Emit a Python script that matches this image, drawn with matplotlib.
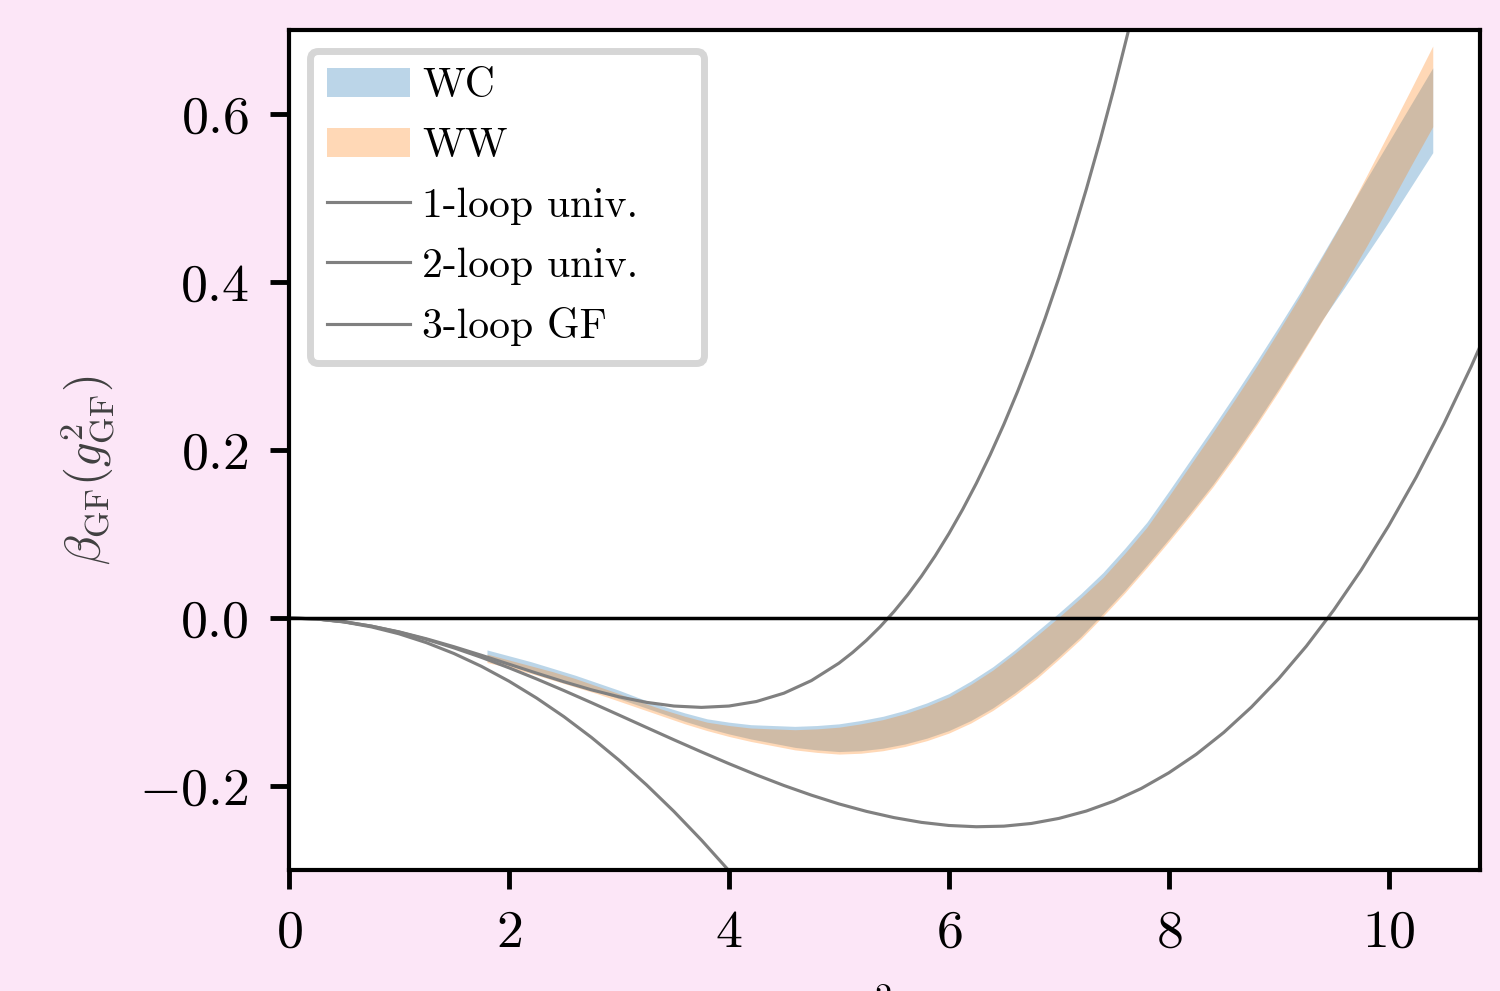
import matplotlib
matplotlib.use("Agg")
import matplotlib.pyplot as plt

plt.rcParams['font.family'] = ['cmr10', 'DejaVu Serif']
plt.rcParams['mathtext.fontset'] = 'cm'
plt.rcParams['axes.formatter.use_mathtext'] = True

# bandas de datos
x_band = [1.8, 2.0, 2.2, 2.4, 2.6, 2.8, 3.0, 3.2, 3.4, 3.6, 3.8, 4.0, 4.2,
          4.4, 4.6, 4.8, 5.0, 5.2, 5.4, 5.6, 5.8, 6.0, 6.2, 6.4, 6.6, 6.8,
          7.0, 7.2, 7.4, 7.6, 7.8, 8.0, 8.2, 8.4, 8.6, 8.8, 9.0, 9.2, 9.4,
          9.6, 9.8, 10.0, 10.2, 10.4]
wc_hi = [-0.038, -0.045, -0.052, -0.060, -0.068, -0.077, -0.086, -0.096,
         -0.105, -0.113, -0.120, -0.124, -0.127, -0.128, -0.129, -0.128,
         -0.126, -0.122, -0.117, -0.110, -0.101, -0.090, -0.075, -0.058,
         -0.038, -0.016, 0.006, 0.029, 0.054, 0.083, 0.114, 0.151, 0.189,
         0.227, 0.266, 0.306, 0.347, 0.389, 0.433, 0.478, 0.523, 0.567,
         0.611, 0.655]
wc_lo = [-0.050, -0.056, -0.063, -0.071, -0.079, -0.087, -0.096, -0.105,
         -0.114, -0.123, -0.131, -0.138, -0.144, -0.149, -0.154, -0.157,
         -0.159, -0.158, -0.155, -0.150, -0.143, -0.134, -0.122, -0.107,
         -0.089, -0.069, -0.046, -0.022, 0.005, 0.033, 0.063, 0.094, 0.126,
         0.159, 0.195, 0.233, 0.273, 0.314, 0.356, 0.394, 0.433, 0.472,
         0.513, 0.554]
ww_hi = [-0.043, -0.050, -0.057, -0.064, -0.072, -0.081, -0.090, -0.100,
         -0.109, -0.117, -0.124, -0.128, -0.131, -0.132, -0.133, -0.132,
         -0.130, -0.126, -0.121, -0.114, -0.105, -0.094, -0.079, -0.062,
         -0.042, -0.021, 0.001, 0.024, 0.048, 0.077, 0.108, 0.145, 0.183,
         0.221, 0.260, 0.300, 0.342, 0.385, 0.431, 0.477, 0.527, 0.578,
         0.629, 0.681]
ww_lo = [-0.053, -0.059, -0.066, -0.074, -0.082, -0.090, -0.099, -0.108,
         -0.117, -0.126, -0.134, -0.141, -0.147, -0.152, -0.157, -0.160,
         -0.162, -0.161, -0.158, -0.153, -0.146, -0.137, -0.125, -0.110,
         -0.092, -0.072, -0.049, -0.025, 0.002, 0.030, 0.060, 0.091, 0.123,
         0.156, 0.192, 0.230, 0.270, 0.312, 0.355, 0.398, 0.443, 0.490,
         0.538, 0.585]

# curvas perturbativas
x_1l = [0, 0.25, 0.5, 0.75, 1.0, 1.25, 1.5, 1.75, 2.0, 2.25, 2.5, 2.75,
        3.0, 3.25, 3.5, 3.75, 4.0]
y_1l = [0, -0.0012, -0.0047, -0.0106, -0.0188, -0.0294, -0.0423, -0.0576,
        -0.0752, -0.0952, -0.1175, -0.1422, -0.1692, -0.1986, -0.2303,
        -0.2644, -0.3008]

x_2l = [0, 0.25, 0.5, 0.75, 1.0, 1.25, 1.5, 1.75, 2.0, 2.25, 2.5, 2.75,
        3.0, 3.25, 3.5, 3.75, 4.0, 4.25, 4.5, 4.75, 5.0, 5.25, 5.5, 5.75,
        6.0, 6.25, 6.5, 6.75, 7.0, 7.25, 7.5, 7.75, 8.0, 8.25, 8.5, 8.75,
        9.0, 9.25, 9.5, 9.75, 10.0, 10.25, 10.5, 10.75, 11.0]
y_2l = [0, -0.0011, -0.0045, -0.0097, -0.0168, -0.0255, -0.0356, -0.0469,
        -0.0593, -0.0725, -0.0864, -0.1008, -0.1155, -0.1303, -0.1450,
        -0.1594, -0.1734, -0.1868, -0.1994, -0.2109, -0.2213, -0.2302,
        -0.2376, -0.2433, -0.2470, -0.2485, -0.2478, -0.2446, -0.2386,
        -0.2298, -0.2180, -0.2029, -0.1843, -0.1622, -0.1362, -0.1062,
        -0.0721, -0.0336, 0.0095, 0.0573, 0.1100, 0.1678, 0.2310, 0.2996,
        0.3739]

x_3l = [0, 0.25, 0.5, 0.75, 1.0, 1.25, 1.5, 1.75, 2.0, 2.25, 2.5, 2.75,
        3.0, 3.25, 3.5, 3.75, 4.0, 4.25, 4.5, 4.75, 5.0, 5.125, 5.25,
        5.375, 5.5, 5.625, 5.75, 5.875, 6.0, 6.125, 6.25, 6.375, 6.5,
        6.625, 6.75, 6.875, 7.0, 7.125, 7.25, 7.375, 7.5, 7.625, 7.75]
y_3l = [0, -0.0011, -0.0044, -0.0097, -0.0165, -0.0248, -0.0342, -0.0444,
        -0.0550, -0.0656, -0.0759, -0.0855, -0.0938, -0.1004, -0.1048,
        -0.1064, -0.1048, -0.0994, -0.0895, -0.0745, -0.0538, -0.0410,
        -0.0266, -0.0104, 0.0076, 0.0276, 0.0497, 0.0739, 0.1004, 0.1292,
        0.1604, 0.1942, 0.2306, 0.2698, 0.3118, 0.3568, 0.4048, 0.4561,
        0.5106, 0.5686, 0.6300, 0.6951, 0.7640]

fig = plt.figure(figsize=(6.0, 3.964), dpi=250, facecolor='#fce6f7')
ax = fig.add_axes([0.1927, 0.1221, 0.794, 0.8476])

ax.fill_between(x_band, wc_lo, wc_hi, color='tab:blue', alpha=0.3, lw=0, label='WC')
ax.fill_between(x_band, ww_lo, ww_hi, color='tab:orange', alpha=0.3, lw=0, label='WW')
ax.plot(x_1l, y_1l, color='gray', lw=0.9, label='1-loop univ.')
ax.plot(x_2l, y_2l, color='gray', lw=0.9, label='2-loop univ.')
ax.plot(x_3l, y_3l, color='gray', lw=0.9, label='3-loop GF')
ax.axhline(0, color='k', lw=1.0)

ax.set_xlim(0, 10.83)
ax.set_ylim(-0.3, 0.7)
ax.set_xticks([0, 2, 4, 6, 8, 10])
ax.set_yticks([-0.2, 0.0, 0.2, 0.4, 0.6])
for s in ax.spines.values():
    s.set_linewidth(1.2)
ax.tick_params(labelsize=15.5, width=1.4, length=5.5, pad=6)

# la etiqueta x queda casi fuera de la figura, como en el original
ax.set_xlabel(r'$g^2_{\rm GF}$', fontsize=14)
ax.xaxis.set_label_coords(0.5, -0.132)
ax.set_ylabel(r'$\beta_{\rm GF}(g^2_{\rm GF})$', fontsize=14, color='0.25')
ax.yaxis.set_label_coords(-0.145, 0.476)

leg = ax.legend(loc='upper left', bbox_to_anchor=(0, 0, 0.366, 1), mode='expand',
                fontsize=12, handletextpad=0.3, labelspacing=0.54)
leg.get_frame().set_linewidth(2)

fig.savefig('out.png', dpi=250, facecolor=fig.get_facecolor())
